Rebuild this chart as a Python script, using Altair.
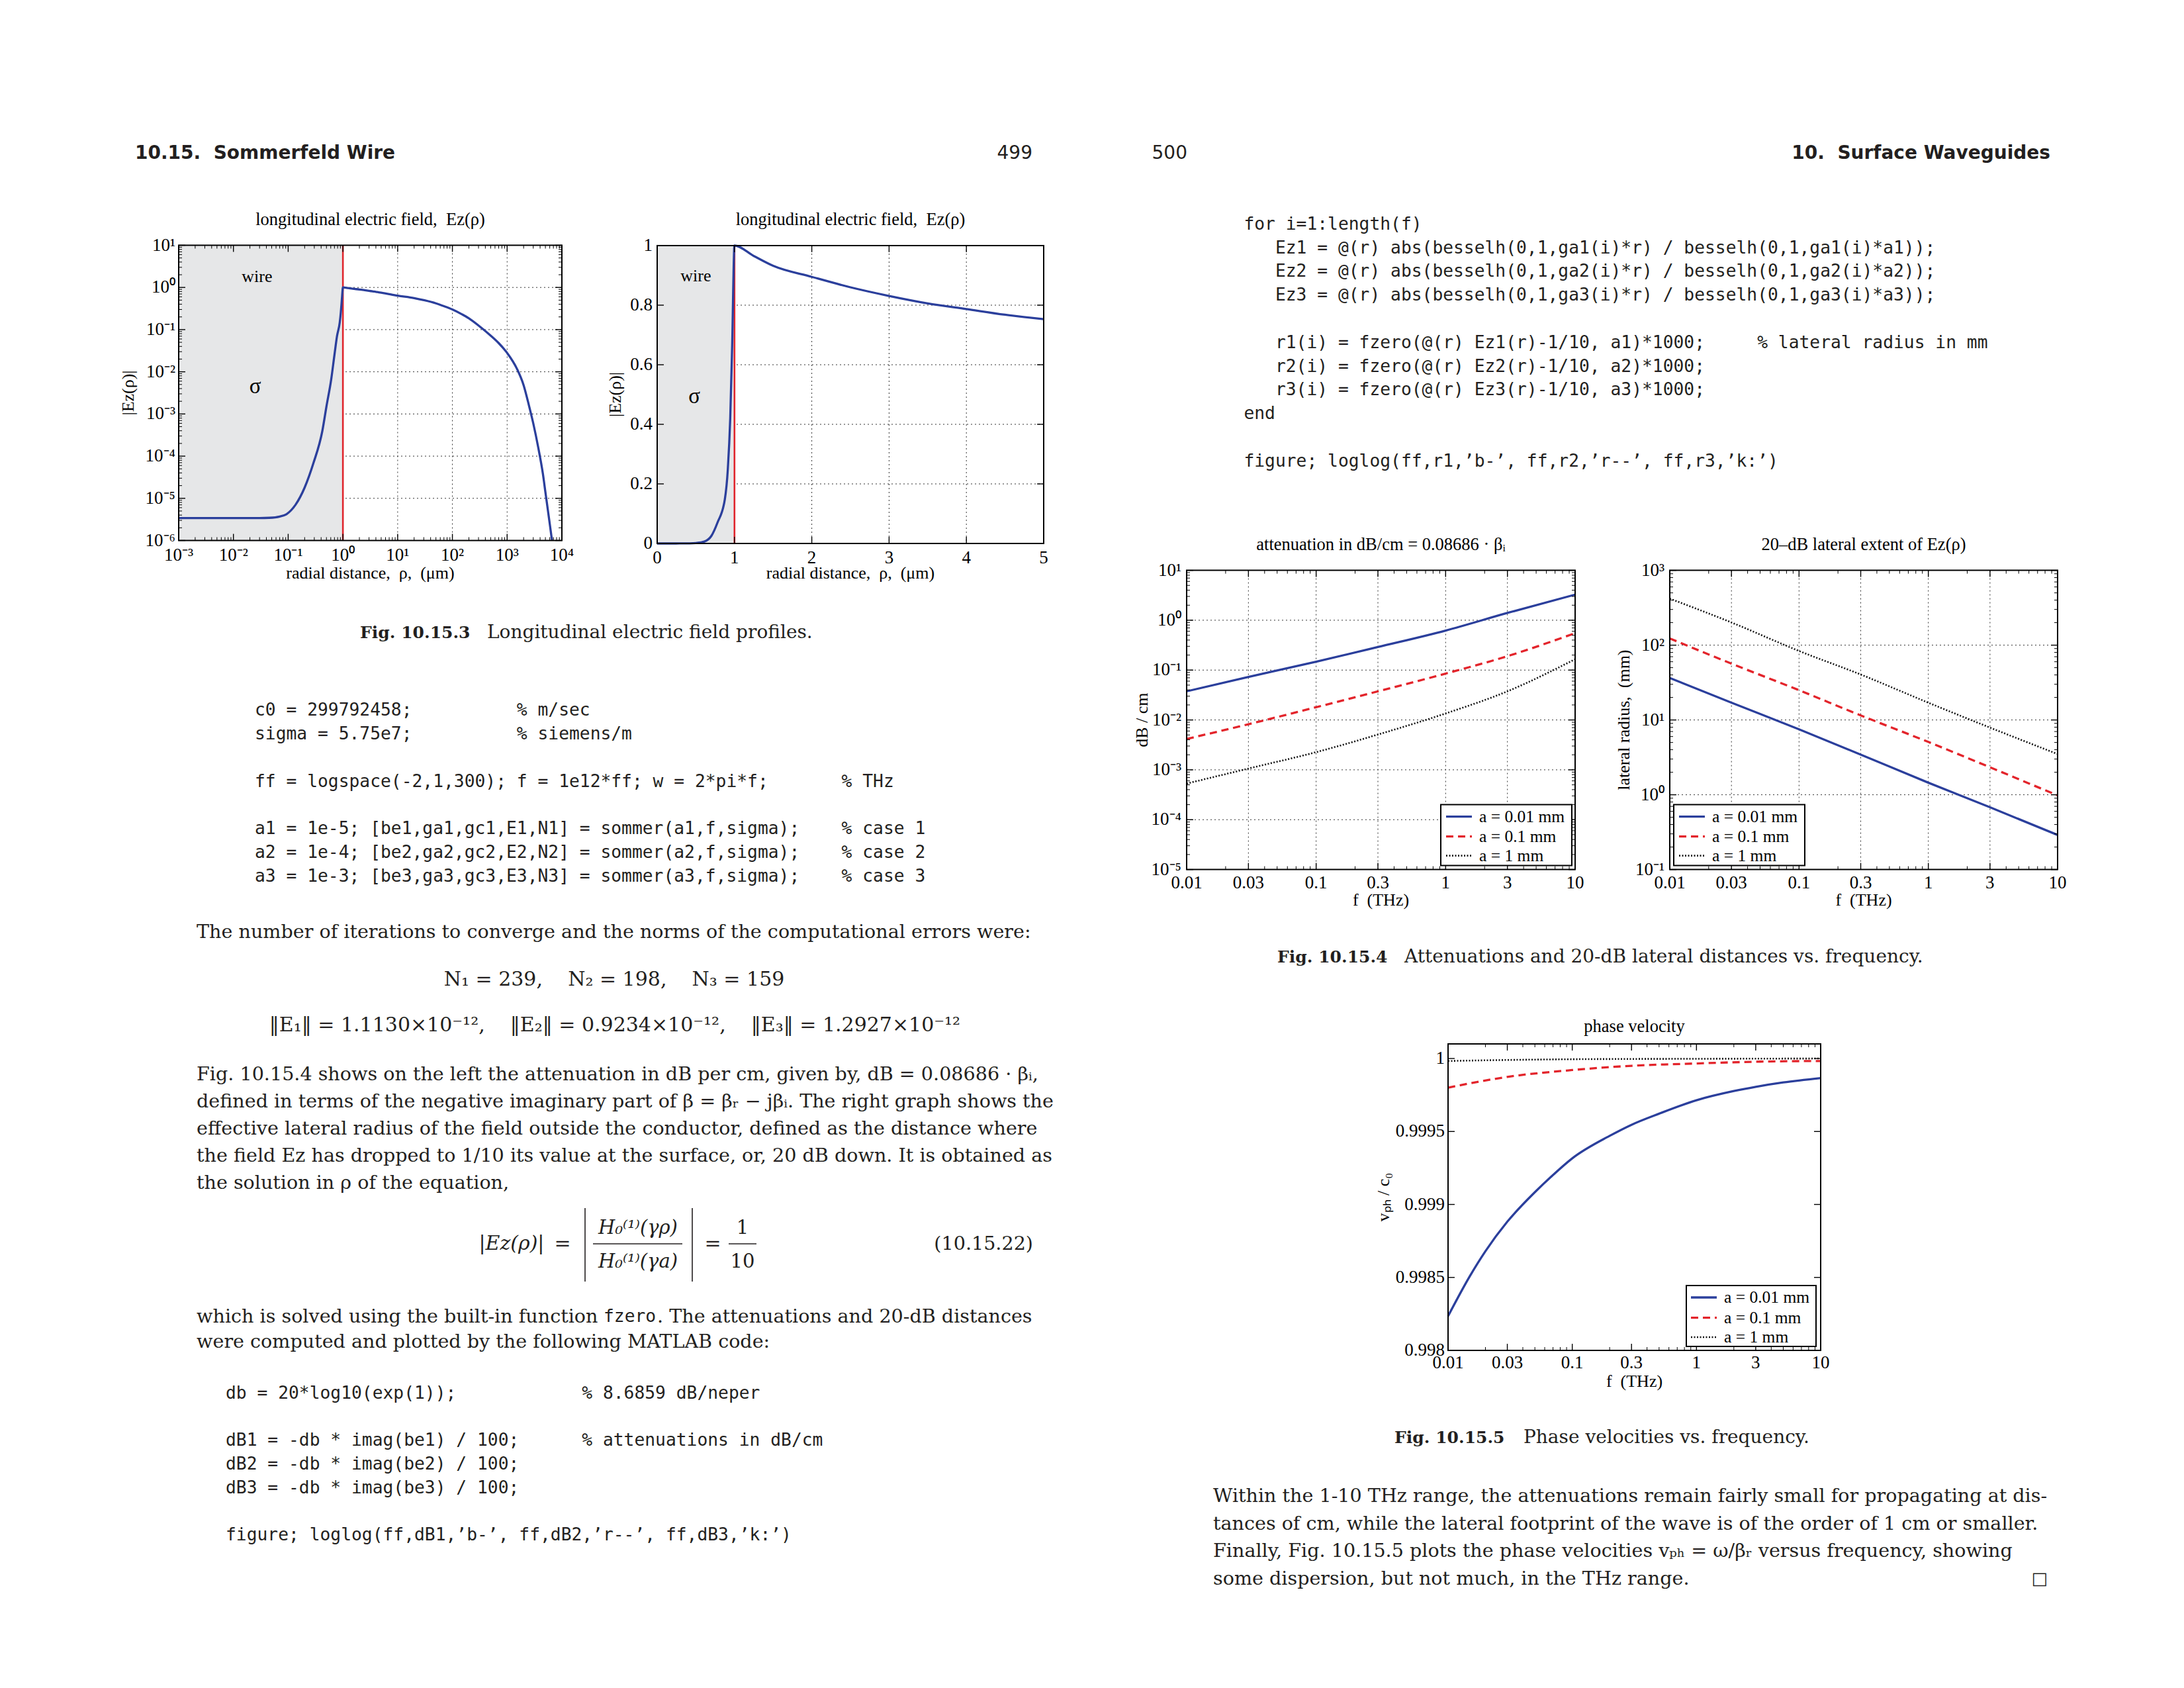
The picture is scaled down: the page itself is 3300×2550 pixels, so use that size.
import math
import altair as alt
import pandas as pd

# ---------------------------------------------------------------- values
# Fig. 10.15.3 : |Ez(rho)|, rho in micrometres (0 is only used on the linear plot)
rho_um = [0.0, 0.001, 0.01, 0.03, 0.045, 0.07, 0.093, 0.136, 0.2, 0.29, 0.42, 0.5, 0.61, 0.7, 0.78,
          0.875, 0.914, 0.945, 0.97, 1.0, 1.25, 1.5, 2.0, 2.5, 3.0, 3.5, 4.0, 4.5, 5.0,
          10, 20, 30, 50, 70, 100, 150, 200, 300, 500, 700, 1000, 1500, 2000, 2500, 3000, 3700, 4500, 5000, 6000, 6600]
ez_abs = [3.4e-6, 3.4e-6, 3.4e-6, 3.4e-6, 3.45e-6, 3.7e-6, 4.2e-6, 7.0e-6, 1.8e-5, 6.9e-5, 3.9e-4, 1.5e-3, 6.5e-3, 0.025, 0.07,
          0.148, 0.25, 0.42, 0.665, 1.0, 0.965, 0.932, 0.895, 0.86, 0.831, 0.806, 0.787, 0.768, 0.753,
          0.64, 0.56, 0.50, 0.42, 0.36, 0.30, 0.23, 0.185, 0.125, 0.072, 0.048, 0.028, 0.012, 4.8e-3, 1.6e-3,
          6.0e-4, 1.6e-4, 3.8e-5, 1.4e-5, 2.5e-6, 1.0e-6]

# Fig. 10.15.4 : frequency in THz
f_thz = [0.01, 0.03, 0.1, 0.3, 1, 3, 10]
atten_a001 = [0.0375, 0.073, 0.147, 0.29, 0.62, 1.40, 3.26]      # dB/cm
atten_a01 = [0.00416, 0.0082, 0.018, 0.0375, 0.085, 0.19, 0.55]
atten_a1 = [5.3e-4, 1.06e-3, 2.26e-3, 5.1e-3, 0.0135, 0.0375, 0.165]
radius_a001 = [36.4, 17.0, 7.5, 3.44, 1.45, 0.68, 0.29]          # mm
radius_a01 = [123, 56.6, 25.0, 11.5, 5.08, 2.33, 0.98]
radius_a1 = [419, 201, 83.6, 40.5, 17.0, 7.9, 3.5]

# Fig. 10.15.5 : phase velocity / c0
f_vph = [0.01, 0.015, 0.02, 0.03, 0.05, 0.07, 0.1, 0.2, 0.3, 0.5, 1, 2, 3, 5, 10]
vph_a001 = [0.998235, 0.99851, 0.99868, 0.998882, 0.999084, 0.999202, 0.999316, 0.99947,
            0.999546, 0.999622, 0.999714, 0.999777, 0.999806, 0.999836, 0.999866]
vph_a01 = [0.99980, 0.999874, 0.999921, 0.99995, 0.999966, 0.999978, 0.999983]
vph_a1 = [0.999983, 0.99999, 0.999995, 0.999997, 0.999998, 0.999999, 1.0]

series_labels = ['a = 0.01 mm', 'a = 0.1 mm', 'a = 1 mm']

# tick values
rho_decades = [1e-3, 1e-2, 1e-1, 1, 10, 100, 1000, 1e4]
ez_decades = [1e-6, 1e-5, 1e-4, 1e-3, 1e-2, 1e-1, 1, 10]
rho_lin_ticks = [0, 1, 2, 3, 4, 5]
ez_lin_ticks = [0, 0.2, 0.4, 0.6, 0.8, 1]
f_ticks = [0.01, 0.03, 0.1, 0.3, 1, 3, 10]
atten_decades = [1e-5, 1e-4, 1e-3, 1e-2, 1e-1, 1, 10]
radius_decades = [0.1, 1, 10, 100, 1000]
vph_ticks = [0.998, 0.9985, 0.999, 0.9995, 1.0]

# ---------------------------------------------------------------- page texts
NB = '\u00a0'
header_left = '10.15.  Sommerfeld Wire'
page_left = '499'
page_right = '500'
header_right = '10.  Surface Waveguides'

title_ez = 'longitudinal electric field,  Ez(ρ)'
title_att = 'attenuation in dB/cm = 0.08686 · βᵢ'
title_rad = '20–dB lateral extent of Ez(ρ)'
title_vph = 'phase velocity'
xlab_rho = 'radial distance,  ρ,  (μm)'
ylab_ez = '|Ez(ρ)|'
xlab_f = 'f  (THz)'
ylab_att = 'dB / cm'
ylab_rad = 'lateral radius,  (mm)'
ylab_vph = 'vₚₕ / c₀'

cap_1 = ('Fig. 10.15.3', 'Longitudinal electric field profiles.')
cap_2 = ('Fig. 10.15.4', 'Attenuations and 20-dB lateral distances vs. frequency.')
cap_3 = ('Fig. 10.15.5', 'Phase velocities vs. frequency.')

code_left_1 = [('c0 = 299792458;', '% m/sec'),
               ('sigma = 5.75e7;', '% siemens/m'),
               ('', ''),
               ('ff = logspace(-2,1,300); f = 1e12*ff; w = 2*pi*f;', '% THz'),
               ('', ''),
               ('a1 = 1e-5; [be1,ga1,gc1,E1,N1] = sommer(a1,f,sigma);', '% case 1'),
               ('a2 = 1e-4; [be2,ga2,gc2,E2,N2] = sommer(a2,f,sigma);', '% case 2'),
               ('a3 = 1e-3; [be3,ga3,gc3,E3,N3] = sommer(a3,f,sigma);', '% case 3')]
code_left_1_cols = [25, 25, 0, 56, 0, 56, 56, 56]

text_iter = 'The number of iterations to converge and the norms of the computational errors were:'
eq_iter = ['N₁ = 239,', 'N₂ = 198,', 'N₃ = 159']
eq_norm = ['‖E₁‖ = 1.1130×10⁻¹²,', '‖E₂‖ = 0.9234×10⁻¹²,', '‖E₃‖ = 1.2927×10⁻¹²']
para_left = ['Fig. 10.15.4 shows on the left the attenuation in dB per cm, given by, dB = 0.08686 · βᵢ,',
             'defined in terms of the negative imaginary part of β = βᵣ − jβᵢ. The right graph shows the',
             'effective lateral radius of the field outside the conductor, defined as the distance where',
             'the field Ez has dropped to 1/10 its value at the surface, or, 20 dB down. It is obtained as',
             'the solution in ρ of the equation,']
eq_lhs = '|Ez(ρ)|'
eq_num = 'H₀⁽¹⁾(γρ)'
eq_den = 'H₀⁽¹⁾(γa)'
eq_tag = '(10.15.22)'
which_parts = ['which is solved using the built-in function', 'fzero', '. The attenuations and 20-dB distances']
were_line = 'were computed and plotted by the following MATLAB code:'
code_left_2 = [('db = 20*log10(exp(1));', '% 8.6859 dB/neper'),
               ('', ''),
               ('dB1 = -db * imag(be1) / 100;', '% attenuations in dB/cm'),
               ('dB2 = -db * imag(be2) / 100;', ''),
               ('dB3 = -db * imag(be3) / 100;', ''),
               ('', ''),
               ('figure; loglog(ff,dB1,’b-’, ff,dB2,’r--’, ff,dB3,’k:’)', '')]
code_left_2_col = 34

code_right = [('for i=1:length(f)', ''),
              ('   Ez1 = @(r) abs(besselh(0,1,ga1(i)*r) / besselh(0,1,ga1(i)*a1));', ''),
              ('   Ez2 = @(r) abs(besselh(0,1,ga2(i)*r) / besselh(0,1,ga2(i)*a2));', ''),
              ('   Ez3 = @(r) abs(besselh(0,1,ga3(i)*r) / besselh(0,1,ga3(i)*a3));', ''),
              ('', ''),
              ('   r1(i) = fzero(@(r) Ez1(r)-1/10, a1)*1000;', '% lateral radius in mm'),
              ('   r2(i) = fzero(@(r) Ez2(r)-1/10, a2)*1000;', ''),
              ('   r3(i) = fzero(@(r) Ez3(r)-1/10, a3)*1000;', ''),
              ('end', ''),
              ('', ''),
              ('figure; loglog(ff,r1,’b-’, ff,r2,’r--’, ff,r3,’k:’)', '')]
code_right_col = 49

para_right = ['Within the 1-10 THz range, the attenuations remain fairly small for propagating at dis-',
              'tances of cm, while the lateral footprint of the wave is of the order of 1 cm or smaller.',
              'Finally, Fig. 10.15.5 plots the phase velocities vₚₕ = ω/βᵣ versus frequency, showing',
              'some dispersion, but not much, in the THz range.']
qed = '□'

# ---------------------------------------------------------------- styles
PF = 'Liberation Serif'
BF = 'DejaVu Serif'
MF = 'DejaVu Sans Mono'
HF = 'DejaVu Sans'
INK = '#231f20'
BLUE = '#2b3f9c'
RED = '#e3242b'
BLK = '#111111'
GRAY = '#e6e7e8'
STYLES = [(BLUE, None, 3.3), (RED, [11, 7], 3.3), (BLK, [2, 2.5], 2.6)]
ONE = pd.DataFrame({'k': [0]})
SUP = str.maketrans('-0123456789', '⁻⁰¹²³⁴⁵⁶⁷⁸⁹')
ZW = '\u200b'      # keeps leading non-breaking spaces from being trimmed
BODY = 28.6
CODE = 26.3
TICK = 27
LEG = 25.5
OFF = 8            # page margin: chart coordinate = page pixel - OFF

L = []             # all layers of the page


def mono(s):
    return ZW + s.replace(' ', NB) if s else s


def code_join(pairs, cols):
    out = []
    for (c, m), col in zip(pairs, cols):
        out.append(mono(c.ljust(col) + m) if m else mono(c))
    return out


def dec_label(v):
    return '10' + str(int(round(math.log10(v)))).translate(SUP)


def num_label(v):
    return '%g' % v


def minor_log(lo, hi, skip=()):
    return [k * 10.0 ** e for e in range(lo, hi) for k in range(2, 10) if k not in skip]


def text(s, px, py, font=BF, size=BODY, weight='normal', style='normal', align='left', color=INK, angle=0):
    L.append(alt.Chart(ONE).mark_text(text=s, font=font, fontSize=size, fontWeight=weight, fontStyle=style,
                                      align=align, baseline='middle', color=color, angle=angle).encode(
        x=alt.value(px - OFF), y=alt.value(py - OFF)))


def lines(ls, px, py0, step, font=BF, size=BODY, color=INK):
    df = pd.DataFrame({'t': ls, 'i': list(range(len(ls)))})
    L.append(alt.Chart(df).transform_calculate(yy=f'{py0 - OFF:.2f} + datum.i * {step:.3f}')
             .mark_text(font=font, fontSize=size, align='left', baseline='middle', color=color)
             .encode(x=alt.value(px - OFF), y=alt.Y('yy:Q', scale=None, axis=None), text='t:N'))


def rule(x1, y1, x2, y2, sw=1.6, color=INK):
    L.append(alt.Chart(ONE).mark_rule(color=color, strokeWidth=sw).encode(
        x=alt.value(x1 - OFF), x2=alt.value(x2 - OFF), y=alt.value(y1 - OFF), y2=alt.value(y2 - OFF)))


class Plot:
    """One MATLAB-style panel; x0, y0 are the page pixels of its plot area's top-left corner."""

    def __init__(self, x0, y0, w, h, xdom, ydom, xlog, ylog):
        self.x0, self.y0, self.w, self.h = x0, y0, w, h
        cx, cy = x0 - OFF, y0 - OFF
        self.cx, self.cy = cx, cy
        xkw = dict(type='log') if xlog else dict(type='linear', zero=False)
        ykw = dict(type='log') if ylog else dict(type='linear', zero=False)
        self.xs = alt.Scale(domain=xdom, range=[cx, cx + w], nice=False, **xkw)
        self.ys = alt.Scale(domain=ydom, range=[cy + h, cy], nice=False, **ykw)

    def X(self, f):
        return alt.X(f'{f}:Q', scale=self.xs, axis=None)

    def Y(self, f):
        return alt.Y(f'{f}:Q', scale=self.ys, axis=None)

    def XD(self, v):
        return alt.XDatum(v, type='quantitative', scale=self.xs, axis=None)

    def YD(self, v):
        return alt.YDatum(v, type='quantitative', scale=self.ys, axis=None)

    def grid(self, xv, yv):
        g = dict(color='#333333', strokeWidth=1, strokeDash=[2, 4])
        if xv:
            L.append(alt.Chart(pd.DataFrame({'v': xv})).mark_rule(**g).encode(
                x=self.X('v'), y=alt.value(self.cy), y2=alt.value(self.cy + self.h)))
        if yv:
            L.append(alt.Chart(pd.DataFrame({'v': yv})).mark_rule(**g).encode(
                y=self.Y('v'), x=alt.value(self.cx), x2=alt.value(self.cx + self.w)))

    def wire(self, x_from, x_to, label_xy, sigma_xy):
        L.append(alt.Chart(ONE).mark_rect(color=GRAY).encode(
            x=self.XD(x_from), x2=alt.X2Datum(x_to), y=alt.value(self.cy), y2=alt.value(self.cy + self.h)))
        L.append(alt.Chart(ONE).mark_rule(color='#e0262d', strokeWidth=2.6).encode(
            x=self.XD(x_to), y=alt.value(self.cy), y2=alt.value(self.cy + self.h)))
        L.append(alt.Chart(ONE).mark_text(text='wire', font=PF, fontSize=26, color='black').encode(
            x=self.XD(label_xy[0]), y=self.YD(label_xy[1])))
        L.append(alt.Chart(ONE).mark_text(text='σ', font=PF, fontSize=33, color='black').encode(
            x=self.XD(sigma_xy[0]), y=self.YD(sigma_xy[1])))

    def curve(self, df, xf, yf, style, filt=None):
        color, dash, sw = style
        props = dict(color=color, strokeWidth=sw, strokeCap='butt', strokeJoin='round', interpolate='monotone')
        if dash:
            props['strokeDash'] = dash
        c = alt.Chart(df)
        if filt:
            c = c.transform_filter(filt)
        L.append(c.mark_line(**props).encode(x=self.X(xf), y=self.Y(yf)))

    def ticks(self, vals, channel, length, sw=1.4):
        base = alt.Chart(pd.DataFrame({'v': vals})).mark_rule(color='black', strokeWidth=sw)
        cx, cy, w, h = self.cx, self.cy, self.w, self.h
        if channel == 'x':
            L.append(base.encode(x=self.X('v'), y=alt.value(cy + h), y2=alt.value(cy + h - length)))
            L.append(base.encode(x=self.X('v'), y=alt.value(cy), y2=alt.value(cy + length)))
        else:
            L.append(base.encode(y=self.Y('v'), x=alt.value(cx), x2=alt.value(cx + length)))
            L.append(base.encode(y=self.Y('v'), x=alt.value(cx + w), x2=alt.value(cx + w - length)))

    def box(self):
        L.append(alt.Chart(ONE).mark_rect(fillOpacity=0, stroke='black', strokeWidth=2).encode(
            x=alt.value(self.cx), x2=alt.value(self.cx + self.w),
            y=alt.value(self.cy), y2=alt.value(self.cy + self.h)))

    def xlabels(self, vals, fmt, dy):
        df = pd.DataFrame({'v': vals, 'lab': [fmt(v) for v in vals]})
        L.append(alt.Chart(df).mark_text(font=PF, fontSize=TICK, color='black', align='center',
                                         baseline='middle').encode(
            x=self.X('v'), y=alt.value(self.cy + self.h + dy), text='lab:N'))

    def ylabels(self, vals, fmt, dx):
        df = pd.DataFrame({'v': vals, 'lab': [fmt(v) for v in vals]})
        L.append(alt.Chart(df).mark_text(font=PF, fontSize=TICK, color='black', align='right',
                                         baseline='middle').encode(
            x=alt.value(self.cx - dx), y=self.Y('v'), text='lab:N'))

    def titles(self, title, title_y, xtitle, xtitle_y, ytitle, ytitle_x):
        mid_x = self.x0 + self.w / 2
        mid_y = self.y0 + self.h / 2
        text(title.replace('  ', NB + NB), mid_x, title_y, font=PF, size=26.5, align='center', color='black')
        text(xtitle.replace('  ', NB + NB), mid_x, xtitle_y, font=PF, size=26, align='center', color='black')
        text(ytitle.replace('  ', NB + NB), ytitle_x, mid_y, font=PF, size=26, align='center', color='black',
             angle=270)

    def legend(self, bx0, bx1, by0, by1, lx0, lx1, tx, rows):
        cx, cy = self.cx, self.cy
        L.append(alt.Chart(ONE).mark_rect(fill='white', stroke='black', strokeWidth=2).encode(
            x=alt.value(cx + bx0), x2=alt.value(cx + bx1), y=alt.value(cy + by0), y2=alt.value(cy + by1)))
        for (color, dash, sw), lab, ry in zip(STYLES, series_labels, rows):
            props = dict(color=color, strokeWidth=sw)
            if dash:
                props['strokeDash'] = dash
            L.append(alt.Chart(ONE).mark_rule(**props).encode(
                x=alt.value(cx + lx0), x2=alt.value(cx + lx1), y=alt.value(cy + ry)))
            L.append(alt.Chart(ONE).mark_text(text=lab, font=PF, fontSize=LEG, color='black', align='left',
                                              baseline='middle').encode(
                x=alt.value(cx + tx), y=alt.value(cy + ry)))


df_ez = pd.DataFrame({'rho': rho_um, 'ez': ez_abs})
f_minor = minor_log(-2, 1, skip=(3,))

# ---- Fig. 10.15.3 left : log-log
P1 = Plot(270, 370.5, 579, 446, [1e-3, 1e4], [1e-6, 1e1], True, True)
P1.grid(rho_decades[1:-1], ez_decades[1:-1])
P1.wire(1e-3, 1.0, (0.027, 1.8), (0.025, 4.5e-3))
P1.curve(df_ez, 'rho', 'ez', STYLES[0], filt='datum.rho > 0')
P1.ticks(rho_decades, 'x', 10)
P1.ticks(minor_log(-3, 4), 'x', 5, 1)
P1.ticks(ez_decades, 'y', 10)
P1.ticks(minor_log(-6, 1), 'y', 5, 1)
P1.box()
P1.xlabels(rho_decades, dec_label, 22)
P1.ylabels(ez_decades, dec_label, 5)
P1.titles(title_ez, 332, xlab_rho, 866, ylab_ez, 194)

# ---- Fig. 10.15.3 right : linear
P2 = Plot(993, 371, 584, 450, [0, 5], [0, 1], False, False)
P2.grid(rho_lin_ticks[1:-1], ez_lin_ticks[1:-1])
P2.wire(0, 1.0, (0.5, 0.897), (0.48, 0.493))
P2.curve(df_ez, 'rho', 'ez', STYLES[0], filt='datum.rho <= 5')
P2.ticks(rho_lin_ticks, 'x', 10)
P2.ticks(ez_lin_ticks, 'y', 10)
P2.box()
P2.xlabels(rho_lin_ticks, num_label, 22)
P2.ylabels(ez_lin_ticks, num_label, 7)
P2.titles(title_ez, 332, xlab_rho, 866, ylab_ez, 930)

# ---- Fig. 10.15.4 left : attenuation
df_att = pd.DataFrame({'f': f_thz, 's1': atten_a001, 's2': atten_a01, 's3': atten_a1})
P3 = Plot(1793, 861.6, 587, 452, [0.01, 10], [1e-5, 10], True, True)
P3.grid(f_ticks[1:-1], atten_decades[1:-1])
for k, st in enumerate(STYLES):
    P3.curve(df_att, 'f', f's{k + 1}', st)
P3.ticks(f_ticks, 'x', 10)
P3.ticks(f_minor, 'x', 5, 1)
P3.ticks(atten_decades, 'y', 10)
P3.ticks(minor_log(-5, 1), 'y', 5, 1)
P3.legend(384, 582, 354, 446, 392, 431, 442, [372, 402, 431])
P3.box()
P3.xlabels(f_ticks, num_label, 20)
P3.ylabels(atten_decades, dec_label, 8)
P3.titles(title_att, 823, xlab_f, 1360, ylab_att, 1726)

# ---- Fig. 10.15.4 right : lateral radius
df_rad = pd.DataFrame({'f': f_thz, 's1': radius_a001, 's2': radius_a01, 's3': radius_a1})
P4 = Plot(2523, 861.6, 586, 452, [0.01, 10], [0.1, 1000], True, True)
P4.grid(f_ticks[1:-1], radius_decades[1:-1])
for k, st in enumerate(STYLES):
    P4.curve(df_rad, 'f', f's{k + 1}', st)
P4.ticks(f_ticks, 'x', 10)
P4.ticks(f_minor, 'x', 5, 1)
P4.ticks(radius_decades, 'y', 10)
P4.ticks(minor_log(-1, 3), 'y', 5, 1)
P4.legend(6, 204, 354, 446, 14, 53, 64, [372, 402, 431])
P4.box()
P4.xlabels(f_ticks, num_label, 20)
P4.ylabels(radius_decades, dec_label, 8)
P4.titles(title_rad, 823, xlab_f, 1360, ylab_rad, 2454)

# ---- Fig. 10.15.5 : phase velocity
df_v1 = pd.DataFrame({'f': f_vph, 'v': vph_a001})
df_v23 = pd.DataFrame({'f': f_thz, 's2': vph_a01, 's3': vph_a1})
P5 = Plot(2188, 1577, 563, 463, [0.01, 10], [0.998, 1.0001], True, False)
P5.curve(df_v1, 'f', 'v', STYLES[0])
P5.curve(df_v23, 'f', 's2', STYLES[1])
P5.curve(df_v23, 'f', 's3', STYLES[2])
P5.ticks(f_ticks, 'x', 10)
P5.ticks(f_minor, 'x', 5, 1)
P5.ticks(vph_ticks, 'y', 10)
P5.legend(360, 556, 365, 457, 367, 406, 417, [383, 413.6, 443])
P5.box()
P5.xlabels(f_ticks, num_label, 19)
P5.ylabels(vph_ticks, num_label, 5)
P5.titles(title_vph, 1551, xlab_f, 2087, ylab_vph, 2091)

# ---------------------------------------------------------------- left page text
GAP = NB * 4
text(mono(header_left), 204, 231.5, font=HF, size=28, weight='bold')
text(page_left, 1560, 231.5, font=HF, size=28, align='right')
text(cap_1[0], 544, 955.5, size=25, weight='bold')
text(cap_1[1], 736, 955.5, size=28)
lines(code_join(code_left_1, code_left_1_cols), 385, 1073.4, 35.8, font=MF, size=CODE)
text(text_iter, 297, 1408)
text(GAP.join(s.replace(' ', NB) for s in eq_iter), 928, 1479.5, size=30, align='center')
text(GAP.join(s.replace(' ', NB) for s in eq_norm), 929, 1549, size=30, align='center')
lines(para_left, 297, 1622.6, 41.05)
text(eq_lhs, 773, 1879, size=30, style='italic', align='center')
text('=', 850, 1879, size=30, align='center')
rule(884, 1825, 884, 1936)
rule(1046, 1825, 1046, 1936)
text(eq_num, 964, 1855, size=29, style='italic', align='center')
text(eq_den, 964, 1906, size=29, style='italic', align='center')
rule(896, 1879, 1031, 1879)
text('=', 1077, 1879, size=30, align='center')
text('1', 1122, 1855, size=29, align='center')
text('10', 1122, 1906, size=29, align='center')
rule(1101, 1879, 1143, 1879)
text(eq_tag, 1561, 1879, align='right')
text(which_parts[0], 297, 1989)
text(which_parts[1], 912, 1989, font=MF, size=CODE)
text(which_parts[2], 993, 1989)
text(were_line, 297, 2027)
lines(code_join(code_left_2, [code_left_2_col] * len(code_left_2)), 341, 2104.6, 35.8, font=MF, size=CODE)

# ---------------------------------------------------------------- right page text
text(page_right, 1740.5, 231.5, font=HF, size=28)
text(mono(header_right), 3098, 231.5, font=HF, size=28, weight='bold', align='right')
lines(code_join(code_right, [code_right_col] * len(code_right)), 1879.4, 338.8, 35.8, font=MF, size=CODE)
text(cap_2[0], 1930, 1446, size=25, weight='bold')
text(cap_2[1], 2122, 1446, size=28)
text(cap_3[0], 2107, 2172, size=25, weight='bold')
text(cap_3[1], 2302, 2172, size=28)
lines(para_right, 1833, 2260, 41.5)
text(qed, 3094, 2384.5, size=26, align='right')

chart = alt.layer(*L).resolve_scale(x='independent', y='independent').properties(
    width=3284, height=2500, padding=0, background='white').configure_view(stroke=None)

chart.save('out.html', embed_options={'renderer': 'svg', 'actions': False})
